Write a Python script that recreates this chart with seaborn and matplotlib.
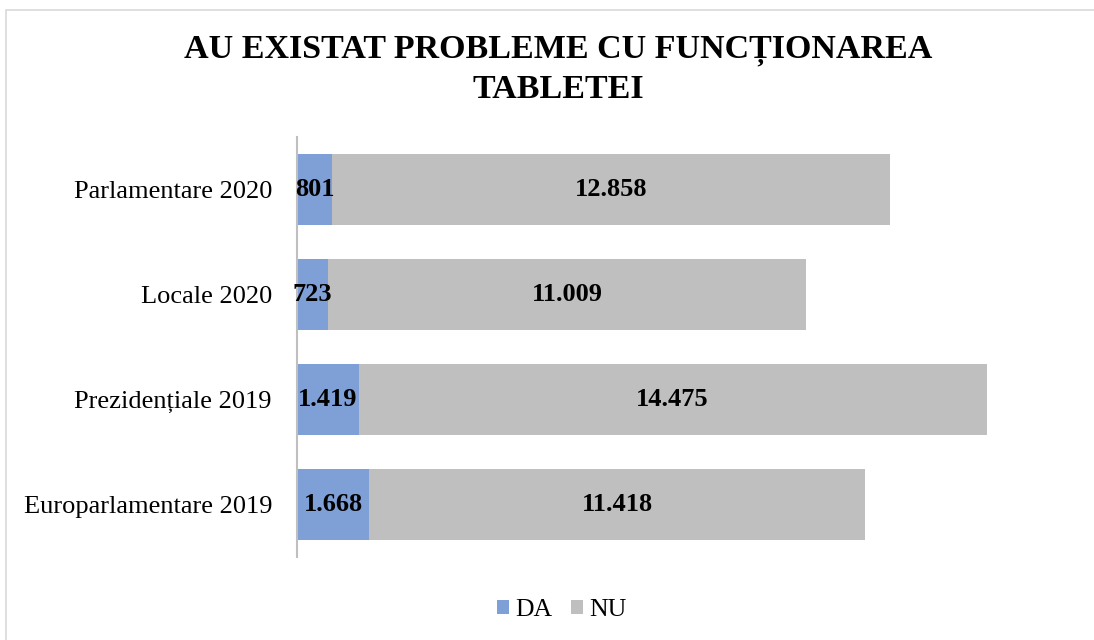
import pandas as pd
import numpy as np
import matplotlib
matplotlib.use("Agg")
import matplotlib.pyplot as plt
from matplotlib.patches import Rectangle, Patch
import seaborn as sns

# Data
categories = ["Parlamentare 2020", "Locale 2020", "Prezidențiale 2019", "Europarlamentare 2019"]
da_values = [801, 723, 1419, 1668]
nu_values = [12858, 11009, 14475, 11418]
series_names = ["DA", "NU"]
colors = {"DA": "#7F9FD7", "NU": "#BFBFBF"}

TITLE = "AU EXISTAT PROBLEME CU FUNCȚIONAREA\nTABLETEI"


def fmt(v):
    # Romanian thousands separator
    return f"{v:,}".replace(",", ".")


sns.set_style("white")
plt.rcParams["font.family"] = ["Liberation Serif", "DejaVu Serif"]
plt.rcParams["text.color"] = "black"
plt.rcParams["ytick.color"] = "black"

df = pd.DataFrame({"category": categories, "DA": da_values, "NU": nu_values})
df["total"] = df["DA"] + df["NU"]

fig = plt.figure(figsize=(10.94, 6.4), dpi=100)
ax = fig.add_axes([297 / 1094, 1 - 557 / 640, (1078 - 297) / 1094, 420 / 640])

# outer chart frame
fig.patches.append(Rectangle((6 / 1094, -0.1), 1.2, 1 - 10 / 640 + 0.1,
                             transform=fig.transFigure, fill=False,
                             edgecolor="#D9D9D9", linewidth=1.2))

# stacked bars: draw the total (NU colour) then DA on top
sns.barplot(data=df, y="category", x="total", color=colors["NU"], orient="h",
            width=0.667, ax=ax, saturation=1, linewidth=0)
sns.barplot(data=df, y="category", x="DA", color=colors["DA"], orient="h",
            width=0.667, ax=ax, saturation=1, linewidth=0)

for i, (d, n) in enumerate(zip(da_values, nu_values)):
    ax.text(d / 2, i, fmt(d), ha="center", va="center", fontsize=19,
            fontweight="bold", color="black")
    ax.text(d + n / 2, i, fmt(n), ha="center", va="center", fontsize=19,
            fontweight="bold", color="black")

ax.set_xlim(0, 18000)
ax.set_ylim(3.5, -0.5)
ax.set_xlabel("")
ax.set_ylabel("")
ax.set_xticks([])
ax.tick_params(axis="y", length=0, labelsize=19, pad=18, labelcolor="black")
for s in ["top", "right", "bottom"]:
    ax.spines[s].set_visible(False)
ax.spines["left"].set_color("#BFBFBF")
ax.spines["left"].set_linewidth(1.5)

fig.text(558 / 1094, 1 - 70 / 640, TITLE, ha="center", va="center",
         fontsize=24.5, fontweight="bold", linespacing=1.3, color="black")

handles = [Patch(facecolor=colors[s], edgecolor="none") for s in series_names]
fig.legend(handles, series_names, loc="center", bbox_to_anchor=(562 / 1094, 1 - 610 / 640),
           ncol=2, frameon=False, fontsize=18.5, handlelength=0.47, handleheight=0.47,
           handletextpad=0.25, columnspacing=0.7)

fig.savefig("out.png", dpi=100)
